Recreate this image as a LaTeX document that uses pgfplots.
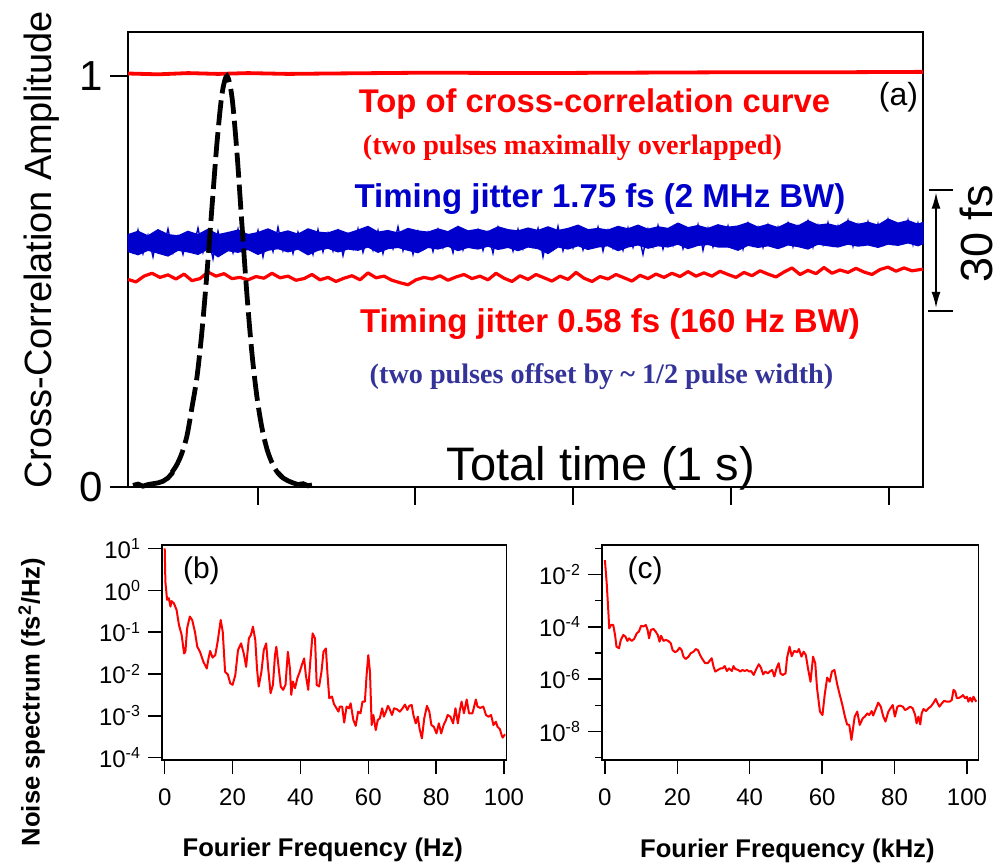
\documentclass[border=0pt]{standalone}
\usepackage{pgfplots}
\pgfplotsset{compat=1.18}
\usepackage{fontspec}
\setmainfont{Liberation Sans}
\newfontfamily\timesf{Liberation Serif}
\usetikzlibrary{arrows.meta}
\definecolor{myred}{RGB}{255,0,0}
\definecolor{myblue}{RGB}{0,0,204}
\definecolor{slate}{RGB}{51,51,153}
\newcommand{\fs}[1]{\fontsize{#1}{#1}\selectfont}
\pgfplotsset{panel/.style={scale only axis, axis line style={line width=0.7pt}, every tick/.style={line width=0.7pt, black}, tick align=outside, tick pos=left, clip=false, /pgf/number format/assume math mode=true}}
\begin{document}
\begin{tikzpicture}
\path[use as bounding box] (0,0) rectangle (500pt,-432.5pt);
% ---------------- panel (a)
\begin{axis}[panel, at={(64pt,-16pt)}, anchor=north west, width=397.5pt, height=227.5pt,
  xmin=0, xmax=795, ymin=0, ymax=1.107,
  xtick={130,287,445,603,761}, xticklabels={}, ytick={0,1}, yticklabels={0,1},
  major tick length=9pt,
  yticklabel style={font=\fs{21pt}}]
\addplot[myred, line width=1.9pt] coordinates {(0,1.006)(30,1.004)(60,1.007)(90,1.005)(120,1.007)(160,1.005)(200,1.006)(300,1.008)(400,1.007)(500,1.008)(600,1.009)(700,1.009)(795,1.010)};
% blue noise band: upper envelope then lower envelope
\addplot[fill=myblue, draw=myblue, line width=0.6pt, line join=round] coordinates {
(0,0.614)(10,0.622)(20,0.611)(30,0.626)(40,0.614)(50,0.611)(60,0.622)(70,0.614)(80,0.627)(90,0.614)
(100,0.619)(110,0.625)(120,0.614)(130,0.619)(140,0.628)(150,0.617)(160,0.623)(170,0.615)(180,0.628)(190,0.620)
(200,0.618)(210,0.626)(220,0.617)(230,0.625)(240,0.634)(250,0.620)(260,0.624)(270,0.618)(280,0.629)(290,0.623)
(300,0.620)(310,0.628)(320,0.621)(330,0.634)(340,0.623)(350,0.627)(360,0.621)(370,0.633)(380,0.626)(390,0.623)
(400,0.630)(410,0.624)(420,0.633)(430,0.624)(440,0.629)(450,0.637)(460,0.626)(470,0.629)(480,0.625)(490,0.634)
(500,0.628)(510,0.637)(520,0.627)(530,0.633)(540,0.629)(550,0.642)(560,0.631)(570,0.636)(580,0.629)(590,0.638)
(600,0.632)(610,0.635)(620,0.643)(630,0.632)(640,0.639)(650,0.631)(660,0.643)(670,0.635)(680,0.648)(690,0.637)
(700,0.640)(710,0.634)(720,0.648)(730,0.639)(740,0.644)(750,0.637)(760,0.652)(770,0.642)(780,0.648)(790,0.639)(795,0.644)
(795,0.592)(790,0.587)(780,0.594)(770,0.588)(760,0.591)(750,0.583)(740,0.589)(730,0.586)(720,0.591)(710,0.584)
(700,0.587)(690,0.591)(680,0.579)(670,0.585)(660,0.589)(650,0.580)(640,0.587)(630,0.583)(620,0.588)(610,0.576)
(600,0.584)(590,0.584)(580,0.590)(570,0.588)(560,0.580)(550,0.591)(540,0.584)(530,0.587)(520,0.581)(510,0.589)
(500,0.584)(490,0.575)(480,0.587)(470,0.584)(460,0.578)(450,0.587)(440,0.579)(430,0.584)(420,0.568)(410,0.580)
(400,0.584)(390,0.575)(380,0.583)(370,0.578)(360,0.586)(350,0.579)(340,0.583)(330,0.575)(320,0.586)(310,0.579)
(300,0.583)(290,0.570)(280,0.576)(270,0.583)(260,0.580)(250,0.571)(240,0.584)(230,0.576)(220,0.579)(210,0.572)
(200,0.581)(190,0.576)(180,0.565)(170,0.579)(160,0.572)(150,0.580)(140,0.576)(130,0.566)(120,0.578)(110,0.571)
(100,0.575)(90,0.560)(80,0.579)(70,0.566)(60,0.572)(50,0.576)(40,0.562)(30,0.569)(20,0.576)(10,0.565)(0,0.573)(0,0.614)};
\addplot[myblue, line width=0.7pt] coordinates {
(0,0.615)(5,0.572)(10,0.625)(15,0.568)(20,0.612)(25,0.560)(30,0.620)(35,0.575)(40,0.628)(45,0.570)
(50,0.610)(55,0.566)(60,0.618)(65,0.578)(70,0.630)(75,0.571)(80,0.614)(85,0.555)(90,0.622)(95,0.574)
(100,0.616)(105,0.570)(110,0.627)(115,0.565)(120,0.612)(125,0.578)(130,0.624)(135,0.560)(140,0.618)(145,0.573)
(150,0.632)(155,0.575)(160,0.614)(165,0.568)(170,0.620)(175,0.580)(180,0.611)(185,0.566)(190,0.626)(195,0.572)
(200,0.617)(205,0.574)(210,0.622)(215,0.563)(220,0.615)(225,0.579)(230,0.628)(235,0.571)(240,0.613)(245,0.576)
(250,0.624)(255,0.568)(260,0.618)(265,0.580)(270,0.633)(275,0.575)(280,0.616)(285,0.566)(290,0.621)(295,0.579)
(300,0.619)(305,0.573)(310,0.626)(315,0.582)(320,0.614)(325,0.570)(330,0.629)(335,0.577)(340,0.617)(345,0.584)
(350,0.625)(355,0.576)(360,0.620)(365,0.569)(370,0.631)(375,0.583)(380,0.616)(385,0.574)(390,0.627)(395,0.580)
(400,0.622)(405,0.585)(410,0.629)(415,0.560)(420,0.618)(425,0.579)(430,0.634)(435,0.575)(440,0.621)(445,0.582)
(450,0.628)(455,0.577)(460,0.619)(465,0.586)(470,0.632)(475,0.574)(480,0.624)(485,0.581)(490,0.617)(495,0.576)
(500,0.630)(505,0.583)(510,0.622)(515,0.566)(520,0.627)(525,0.585)(530,0.636)(535,0.579)(540,0.625)(545,0.588)
(550,0.633)(555,0.580)(560,0.626)(565,0.587)(570,0.638)(575,0.576)(580,0.629)(585,0.584)(590,0.622)(595,0.590)
(600,0.635)(605,0.586)(610,0.628)(615,0.579)(620,0.640)(625,0.589)(630,0.631)(635,0.583)(640,0.637)(645,0.591)
(650,0.632)(655,0.588)(660,0.641)(665,0.585)(670,0.634)(675,0.592)(680,0.646)(685,0.584)(690,0.636)(695,0.590)
(700,0.643)(705,0.589)(710,0.635)(715,0.594)(720,0.648)(725,0.586)(730,0.638)(735,0.592)(740,0.645)(745,0.595)
(750,0.640)(755,0.591)(760,0.650)(765,0.593)(770,0.637)(775,0.596)(780,0.649)(785,0.590)(790,0.642)(795,0.598)};
\addplot[myred, line width=1.6pt, line join=round] coordinates {
(0,0.505)(8,0.499)(16,0.513)(24,0.520)(32,0.510)(40,0.516)(48,0.506)(56,0.518)(64,0.502)(72,0.507)
(80,0.523)(88,0.513)(96,0.519)(104,0.507)(112,0.510)(120,0.504)(128,0.512)(136,0.508)(144,0.520)(152,0.509)
(160,0.513)(168,0.503)(176,0.507)(184,0.517)(192,0.504)(200,0.510)(208,0.500)(216,0.508)(224,0.514)(232,0.504)
(240,0.521)(248,0.509)(256,0.513)(264,0.503)(272,0.497)(280,0.492)(288,0.504)(296,0.510)(304,0.506)(312,0.514)
(320,0.503)(328,0.511)(336,0.517)(344,0.507)(352,0.513)(360,0.504)(368,0.520)(376,0.508)(384,0.500)(392,0.514)
(400,0.505)(408,0.517)(416,0.509)(424,0.501)(432,0.513)(440,0.505)(448,0.522)(456,0.508)(464,0.500)(472,0.512)
(480,0.506)(488,0.517)(496,0.509)(504,0.501)(512,0.515)(520,0.507)(528,0.518)(536,0.510)(544,0.520)(552,0.512)
(560,0.524)(568,0.513)(576,0.521)(584,0.513)(592,0.525)(600,0.517)(608,0.510)(616,0.522)(624,0.514)(632,0.526)
(640,0.518)(648,0.511)(656,0.523)(664,0.533)(672,0.517)(680,0.527)(688,0.519)(696,0.534)(704,0.520)(712,0.528)
(720,0.522)(728,0.532)(736,0.523)(744,0.517)(752,0.529)(760,0.535)(768,0.525)(776,0.533)(784,0.526)(795,0.530)};
\addplot[black, line width=2.4pt] coordinates {(5,0.004)(10,0.007)(15,0.002)(20,0.006)(25,0.008)(30,0.010)(35,0.014)(40,0.022)(45,0.036)};
\addplot[black, line width=2.4pt, smooth, dash pattern=on 12.5pt off 3.5pt] coordinates {
(44,0.036)(49,0.055)(54,0.083)(59,0.125)(64,0.194)(69,0.268)(74,0.380)(79,0.522)(84,0.682)(89,0.838)(94,0.956)(99,1.0)
(104,0.948)(109,0.812)(114,0.636)(119,0.466)(124,0.324)(129,0.218)(134,0.143)(139,0.092)(144,0.059)(149,0.037)(154,0.024)};
\addplot[black, line width=2.4pt] coordinates {(150,0.035)(155,0.022)(160,0.015)(165,0.010)(170,0.006)(175,0.008)(180,0.003)(184,0.005)};
% annotations
\node[anchor=base, text=myred, font=\fs{16.4pt}\bfseries] at (axis cs:466.5,0.912) {Top of cross-correlation curve};
\node[anchor=base, text=myred, font=\timesf\fs{14.1pt}\bfseries] at (axis cs:444.5,0.808) {(two pulses maximally overlapped)};
\node[anchor=base, text=myblue, font=\fs{16.5pt}\bfseries] at (axis cs:472,0.681) {Timing jitter 1.75 fs (2 MHz BW)};
\node[anchor=base, text=myred, font=\fs{16.5pt}\bfseries] at (axis cs:482,0.375) {Timing jitter 0.58 fs (160 Hz BW)};
\node[anchor=base, text=slate, font=\timesf\fs{14.1pt}\bfseries] at (axis cs:473.5,0.253) {(two pulses offset by \textasciitilde{} 1/2 pulse width)};
\node[anchor=base, font=\fs{23.5pt}] at (axis cs:473,0.017) {Total time (1 s)};
\node[anchor=base, font=\fs{16pt}] at (axis cs:770.5,0.927) {(a)};
\draw[line width=0.7pt] (axis cs:801,0.7226) -- (axis cs:825,0.7226);
\draw[line width=0.7pt] (axis cs:800,0.428) -- (axis cs:825,0.428);
\draw[line width=0.7pt, {Latex[length=8pt,width=4.5pt]}-{Latex[length=8pt,width=4.5pt]}] (axis cs:808,0.716) -- (axis cs:808,0.436);
\node[anchor=base, rotate=90, inner sep=0pt, font=\fs{22.5pt}] at (axis cs:864,0.6156) {30 fs};
\node[anchor=base, rotate=90, inner sep=0pt, font=\fs{19pt}] at (axis cs:-76,0.5766) {Cross-Correlation Amplitude};
\end{axis}
% ---------------- panel (b)
\begin{axis}[panel, at={(81pt,-272.5pt)}, anchor=north west, width=172.35pt, height=107.5pt,
  xmin=-0.8, xmax=100.8, ymin=-4.055, ymax=1.08,
  xtick={0,20,40,60,80,100}, ytick={-4,-3,-2,-1,0,1},
  yticklabels={10\textsuperscript{-4},10\textsuperscript{-3},10\textsuperscript{-2},10\textsuperscript{-1},10\textsuperscript{0},10\textsuperscript{1}},
  major tick length=7pt,
  ticklabel style={font=\fs{12pt}}, xticklabel style={yshift=-4pt}]
\addplot[myred, line width=1pt, line join=round] coordinates {
(0,1.0)(0.2,0.2)(0.7,-0.23)(1.2,-0.19)(1.7,-0.39)(2.0,-0.26)(2.7,-0.31)(3.5,-0.47)(4.2,-0.83)(5.0,-1.07)
(5.7,-1.51)(6.1,-1.47)(6.6,-0.91)(7.4,-0.63)(8.1,-0.71)(8.9,-0.99)(9.6,-1.35)(10.4,-1.47)(11.4,-1.71)(12.4,-1.87)
(12.9,-1.63)(13.4,-1.45)(14.1,-1.61)(14.9,-1.55)(15.6,-1.23)(16.5,-0.71)(17.1,-0.99)(17.8,-1.95)(18.6,-2.01)(19.3,-2.22)
(20.0,-2.26)(20.8,-2.03)(21.6,-1.43)(22.5,-1.27)(23.3,-1.51)(24.0,-1.83)(24.8,-1.15)(25.4,-1.07)(26.0,-0.87)(26.7,-1.19)
(27.2,-1.87)(27.7,-2.30)(28.5,-1.95)(29.2,-1.43)(29.9,-1.27)(30.5,-1.87)(31.2,-2.46)(31.9,-2.26)(32.5,-1.55)(32.9,-1.35)
(33.5,-1.79)(34.2,-2.30)(34.9,-2.38)(35.6,-2.26)(36.3,-1.47)(36.9,-1.87)(37.3,-2.50)(37.8,-2.18)(38.4,-2.34)(39.1,-2.10)
(39.8,-1.95)(40.4,-1.79)(41.1,-1.63)(41.6,-2.03)(42.3,-2.38)(42.9,-1.71)(43.6,-1.03)(44.3,-1.15)(44.8,-2.26)(45.5,-2.30)
(46.2,-1.95)(46.8,-1.47)(47.5,-1.39)(48.0,-2.03)(48.5,-2.58)(49.3,-2.54)(49.9,-2.72)(50.5,-2.80)(51.2,-2.90)(51.6,-2.78)
(52.3,-2.78)(52.9,-3.16)(53.6,-2.78)(54.3,-2.82)(54.8,-2.70)(55.6,-3.10)(56.3,-3.24)(57.0,-2.90)(57.7,-2.94)(58.3,-2.66)
(59.0,-2.66)(59.5,-2.03)(60.0,-1.55)(60.5,-1.95)(61.0,-3.22)(61.5,-2.98)(62.2,-3.34)(62.8,-3.10)(63.4,-3.06)(64.1,-2.82)
(64.6,-3.02)(65.2,-2.90)(65.8,-2.76)(66.4,-2.86)(67.0,-2.98)(67.6,-2.82)(68.4,-2.84)(69.3,-2.90)(70.1,-2.82)(70.8,-2.73)
(71.5,-2.86)(72.1,-2.76)(72.8,-2.74)(73.3,-2.98)(74.0,-3.18)(74.6,-3.02)(75.1,-3.30)(75.8,-3.54)(76.5,-3.06)(77.3,-2.76)
(78.0,-2.90)(78.6,-3.22)(79.3,-3.26)(80.1,-3.42)(80.8,-3.18)(81.5,-3.42)(82.2,-3.22)(82.9,-3.10)(83.4,-2.98)(84.2,-3.02)
(85.0,-3.18)(85.7,-2.82)(86.4,-3.18)(87.0,-2.86)(87.5,-2.66)(88.2,-2.94)(89.0,-2.61)(89.7,-2.94)(90.7,-2.94)(91.2,-2.78)
(91.7,-2.61)(92.2,-2.78)(93.0,-2.81)(93.9,-2.78)(94.7,-2.98)(95.4,-3.02)(96.2,-2.98)(96.9,-3.22)(97.6,-3.14)(98.1,-3.26)
(98.8,-3.32)(99.3,-3.46)(99.6,-3.52)(100.3,-3.44)};
\node[anchor=base, font=\fs{15pt}] at (axis cs:10.8,0.291) {(b)};
\node[anchor=base, font=\fs{12.8pt}\bfseries] at (axis cs:46.6,-6.37) {Fourier Frequency (Hz)};
\node[anchor=base, rotate=90, inner sep=0pt, font=\fs{12.8pt}\bfseries] at (axis cs:-36.9,-2.67) {Noise spectrum (fs\textsuperscript{2}/Hz)};
\end{axis}
% ---------------- panel (c)
\begin{axis}[panel, at={(301pt,-272.5pt)}, anchor=north west, width=188.25pt, height=107.5pt,
  xmin=-0.8, xmax=103.2, ymin=-9.09, ymax=-0.874,
  xtick={0,20,40,60,80,100}, ytick={-8,-6,-4,-2}, minor ytick={-9,-7,-5,-3,-1},
  yticklabels={10\textsuperscript{-8},10\textsuperscript{-6},10\textsuperscript{-4},10\textsuperscript{-2}},
  major tick length=7pt, minor tick length=3.5pt,
  ticklabel style={font=\fs{12pt}}, xticklabel style={yshift=-4pt}]
\addplot[myred, line width=1pt, line join=round] coordinates {
(0.0,-1.45)(0.5,-2.34)(0.9,-3.29)(1.2,-4.06)(1.7,-3.93)(2.3,-3.93)(2.8,-4.31)(3.2,-4.76)(3.9,-4.82)(4.4,-4.50)
(5.1,-4.31)(5.7,-4.38)(6.2,-4.54)(6.7,-4.44)(7.4,-4.54)(8.1,-4.46)(8.8,-4.25)(9.4,-4.18)(10.0,-3.96)(10.6,-3.99)
(11.3,-3.93)(11.8,-4.12)(12.2,-4.44)(12.7,-4.12)(13.4,-4.08)(14.0,-4.18)(14.6,-4.31)(15.1,-4.57)(15.5,-4.34)(16.2,-4.54)
(16.8,-4.50)(17.5,-4.54)(18.2,-4.63)(18.7,-4.89)(19.4,-4.97)(20.0,-4.92)(20.6,-4.80)(21.2,-4.89)(21.7,-5.14)(22.3,-5.23)
(23.1,-5.14)(23.7,-5.01)(24.5,-4.95)(25.1,-4.85)(25.7,-4.89)(26.3,-5.08)(26.9,-5.23)(27.7,-5.39)(28.4,-5.39)(29.1,-5.27)
(29.5,-5.20)(30.0,-5.52)(30.5,-5.71)(31.2,-5.65)(31.9,-5.59)(32.5,-5.59)(33.1,-5.50)(33.7,-5.69)(34.3,-5.59)(35.1,-5.69)
(35.5,-5.50)(36.0,-5.61)(36.8,-5.65)(37.4,-5.71)(38.0,-5.65)(38.6,-5.69)(39.2,-5.65)(39.9,-5.71)(40.4,-5.69)(41.1,-5.84)
(41.7,-5.65)(42.5,-5.43)(43.1,-5.56)(43.7,-5.82)(44.3,-5.71)(45.0,-5.78)(45.7,-5.69)(46.2,-5.65)(46.8,-5.90)(47.4,-5.59)
(48.0,-5.39)(48.5,-5.78)(49.1,-5.84)(49.9,-5.78)(50.3,-5.20)(51.0,-4.76)(51.6,-5.12)(52.3,-4.92)(53.1,-4.97)(53.6,-4.85)
(54.3,-5.14)(54.9,-4.95)(55.5,-5.08)(56.1,-5.59)(56.8,-6.10)(57.5,-5.14)(58.1,-5.39)(58.6,-6.35)(59.4,-7.24)(60.1,-7.37)
(60.7,-6.61)(61.4,-5.94)(62.1,-6.10)(62.7,-5.71)(63.4,-5.65)(64.2,-6.22)(64.9,-6.61)(65.6,-6.99)(66.3,-7.43)(66.9,-7.73)
(67.5,-7.75)(68.1,-8.32)(68.6,-7.82)(69.0,-7.43)(69.7,-7.24)(70.4,-7.75)(71.2,-7.50)(71.8,-7.43)(72.5,-7.31)(73.0,-7.37)
(73.7,-7.22)(74.1,-7.39)(74.9,-7.11)(75.5,-6.90)(76.2,-7.05)(76.9,-7.43)(77.5,-7.62)(78.3,-7.24)(78.9,-7.11)(79.5,-6.99)
(80.1,-7.43)(80.8,-7.05)(81.5,-7.01)(82.3,-7.05)(82.9,-7.18)(83.5,-7.14)(84.3,-7.05)(85.0,-7.11)(85.7,-7.37)(86.1,-7.69)
(86.6,-7.43)(87.1,-7.73)(87.5,-7.31)(88.0,-7.14)(88.7,-7.22)(89.4,-7.11)(90.0,-7.05)(90.7,-6.92)(91.4,-6.76)(91.9,-6.92)
(92.4,-7.05)(93.1,-6.92)(93.7,-6.83)(94.4,-6.86)(95.2,-6.86)(95.8,-6.80)(96.3,-6.41)(96.8,-6.48)(97.2,-6.73)(97.9,-6.71)
(98.4,-6.67)(98.9,-6.61)(99.5,-6.73)(100.0,-6.67)(100.4,-6.86)(100.9,-6.71)(101.4,-6.86)(101.8,-6.67)(102.3,-6.80)(102.6,-6.86)};
\node[anchor=base, font=\fs{15pt}] at (axis cs:11.08,-2.135) {(c)};
\node[anchor=base, font=\fs{12.8pt}\bfseries] at (axis cs:50.4,-12.80) {Fourier Frequency (kHz)};
\end{axis}
\end{tikzpicture}
\end{document}
